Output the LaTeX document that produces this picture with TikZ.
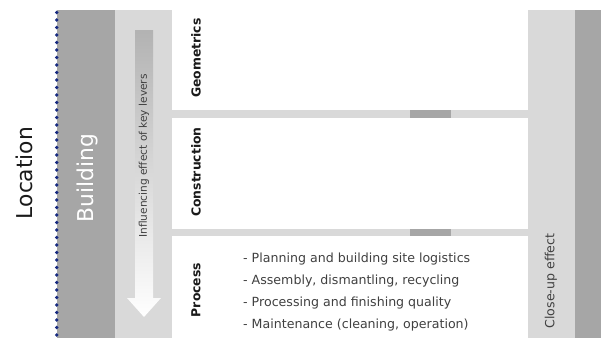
\documentclass[tikz,border=0pt]{standalone}
\usepackage{fontspec}
\setmainfont{DejaVu Sans}
\definecolor{darkband}{HTML}{A6A6A6}
\definecolor{lightband}{HTML}{D9D9D9}
\definecolor{dotblue}{HTML}{172A80}
\definecolor{txtdark}{HTML}{1A1A1A}
\definecolor{txtmid}{HTML}{404040}
\tikzset{
  bigtext/.style={rotate=90, inner sep=0pt, font=\fontsize{21.8}{26}\selectfont},
  rowlabel/.style={rotate=90, inner sep=0pt, text=txtdark, font=\fontsize{12.4}{15}\bfseries\selectfont},
  listitem/.style={anchor=base west, inner sep=0pt, text=txtmid, font=\fontsize{12.6}{15}\selectfont},
  sidetext/.style={rotate=90, inner sep=0pt, text=txtmid, font=\fontsize{12.6}{15}\selectfont},
}
\begin{document}
\begin{tikzpicture}[x=1pt,y=-1pt]
\useasboundingbox (0,0) rectangle (601,338);
\fill[white] (0,0) rectangle (601,338);
% vertical bands
\fill[darkband] (57,10) rectangle (115,338);
\fill[lightband] (115,10) rectangle (172,338);
\fill[lightband] (528,10) rectangle (575,338);
\fill[darkband] (575,10) rectangle (601,338);
% row separators
\fill[lightband] (172,110) rectangle (528,118);
\fill[darkband] (410,110) rectangle (451,118);
\fill[lightband] (172,229) rectangle (528,236);
\fill[darkband] (410,229) rectangle (451,236);
% dotted boundary
\foreach \yy in {12.5,20,...,338} \fill[dotblue] (56.8,\yy) circle (1.9pt);
% arrow
\shade[top color=black!30, bottom color=white]
  (135,30) -- (153,30) -- (153,298) -- (161,298) -- (144,317) -- (127,298) -- (135,298) -- cycle;
% texts
\node[bigtext, text=txtdark] (loc) at (24,173) {Location};
\node[bigtext, text=white] (bld) at (87,178) {Building};
\node[rotate=90, inner sep=0pt, text=txtmid, font=\fontsize{10.6}{13}\selectfont] (infl) at (144,156) {Influencing effect of key levers};
\node[rowlabel] (geo) at (196,58) {Geometrics};
\node[rowlabel] (con) at (196,172) {Construction};
\node[rowlabel] (pro) at (196,290) {Process};
\node[listitem] (l1) at (243,262) {- Planning and building site logistics};
\node[listitem] (l2) at (243,284) {- Assembly, dismantling, recycling};
\node[listitem] (l3) at (243,306) {- Processing and finishing quality};
\node[listitem] (l4) at (243,328) {- Maintenance (cleaning, operation)};
\node[sidetext] (close) at (551,281) {Close-up effect};
\end{tikzpicture}
\end{document}
